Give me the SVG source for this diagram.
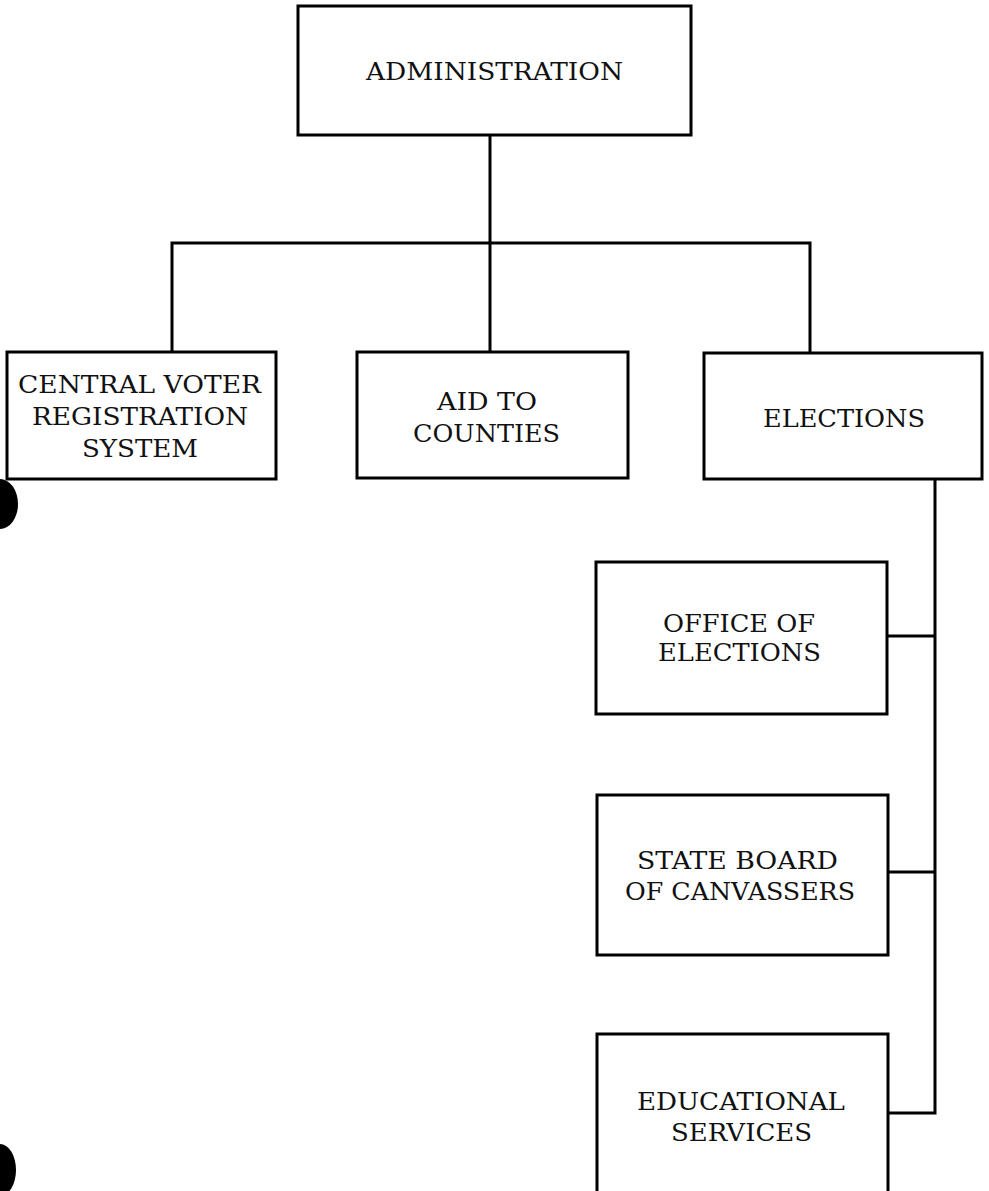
<svg xmlns="http://www.w3.org/2000/svg" width="989" height="1191" viewBox="0 0 989 1191">
<style>
.box{fill:#fff;stroke:#000;stroke-width:3}
.lbl{font-family:"DejaVu Serif","Liberation Serif",serif;font-size:24px;fill:#111}
.con{fill:none;stroke:#000;stroke-width:3;stroke-linejoin:miter}
</style>
<rect width="989" height="1191" fill="#fff"/>
<g id="connectors">
<path class="con" d="M490 135 V352"/>
<path class="con" d="M172 352 V243 H810 V353"/>
<path class="con" d="M935 479 V1113 H888"/>
<path class="con" d="M888 636 H935"/>
<path class="con" d="M888 872 H935"/>
</g>
<g id="administration">
<rect class="box" x="298" y="6" width="393" height="129"/>
<text class="lbl" x="366" y="80" textLength="257" lengthAdjust="spacingAndGlyphs">ADMINISTRATION</text>
</g>
<g id="central-voter">
<rect class="box" x="7" y="352" width="269" height="127"/>
<text class="lbl" x="18" y="393" textLength="243" lengthAdjust="spacingAndGlyphs">CENTRAL VOTER</text>
<text class="lbl" x="32" y="425" textLength="216" lengthAdjust="spacingAndGlyphs">REGISTRATION</text>
<text class="lbl" x="82" y="457" textLength="116" lengthAdjust="spacingAndGlyphs">SYSTEM</text>
</g>
<g id="aid-to-counties">
<rect class="box" x="357" y="352" width="271" height="126"/>
<text class="lbl" x="437" y="410" textLength="100" lengthAdjust="spacingAndGlyphs">AID TO</text>
<text class="lbl" x="413" y="442" textLength="147" lengthAdjust="spacingAndGlyphs">COUNTIES</text>
</g>
<g id="elections">
<rect class="box" x="704" y="353" width="278" height="126"/>
<text class="lbl" x="763" y="427" textLength="162" lengthAdjust="spacingAndGlyphs">ELECTIONS</text>
</g>
<g id="office-of-elections">
<rect class="box" x="596" y="562" width="291" height="152"/>
<text class="lbl" x="663" y="632" textLength="152" lengthAdjust="spacingAndGlyphs">OFFICE OF</text>
<text class="lbl" x="658" y="661" textLength="163" lengthAdjust="spacingAndGlyphs">ELECTIONS</text>
</g>
<g id="state-board">
<rect class="box" x="597" y="795" width="291" height="160"/>
<text class="lbl" x="637" y="869" textLength="201" lengthAdjust="spacingAndGlyphs">STATE BOARD</text>
<text class="lbl" x="625" y="900" textLength="230" lengthAdjust="spacingAndGlyphs">OF CANVASSERS</text>
</g>
<g id="educational-services">
<rect class="box" x="597" y="1034" width="291" height="170"/>
<text class="lbl" x="637" y="1110" textLength="208" lengthAdjust="spacingAndGlyphs">EDUCATIONAL</text>
<text class="lbl" x="671" y="1141" textLength="141" lengthAdjust="spacingAndGlyphs">SERVICES</text>
</g>
<g id="punch-holes">
<ellipse cx="0" cy="504" rx="18" ry="25" fill="#000"/>
<ellipse cx="0" cy="1170" rx="16" ry="26" fill="#000"/>
</g>
</svg>
